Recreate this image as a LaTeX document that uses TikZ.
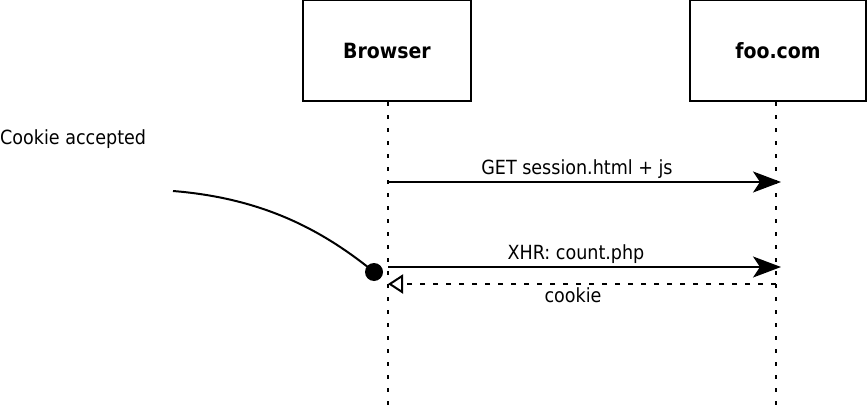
\documentclass[tikz,border=0pt]{standalone}
\usepackage{fontspec}
\setmainfont{DejaVu Sans Condensed}
\usetikzlibrary{arrows.meta}

\begin{document}
\begin{tikzpicture}[x=1pt, y=-1pt, >=Stealth,
 party/.style={draw, line width=2pt, minimum height=101pt, inner sep=0pt, font=\fontsize{21}{25}\selectfont\bfseries},
 life/.style={line width=2pt, dash pattern=on 3.5pt off 9.5pt},
 msg/.style={->, line width=2pt, >={Stealth[length=28pt,width=21pt,inset=7pt]}},
 reply/.style={->, line width=2pt, dash pattern=on 5pt off 8pt, >={Triangle[open,length=15pt,width=19pt,line width=2pt]}},
 lbl/.style={font=\fontsize{19.5}{23}\selectfont, inner sep=0pt}]
\useasboundingbox (0,0) rectangle (867,412);
% participants
\node[party, minimum width=168pt] (browser) at (387,50.5) {Browser};
\node[party, minimum width=176pt] (foo) at (778,50.5) {foo.com};
\coordinate (browserEnd) at (388,410);
\coordinate (fooEnd) at (776,410);
\draw[life] (browser.south -| browserEnd) -- (browserEnd);
\draw[life] (foo.south -| fooEnd) -- (fooEnd);
% messages
\coordinate (b1) at (388,182); \coordinate (f1) at (781,182);
\coordinate (b2) at (388,267); \coordinate (f2) at (781,267);
\coordinate (b3) at (388,284); \coordinate (f3) at (776,284);
\draw[msg] (b1) -- (f1) node[lbl, midway, above=2.5pt, xshift=-7.5pt] {GET session.html + js};
\draw[msg] (b2) -- (f2) node[lbl, midway, above=2.5pt, xshift=-8.5pt] {XHR: count.php};
\draw[reply] (f3) -- (b3) node[lbl, midway, below=3pt, xshift=-9pt] {cookie};
% note
\node[fill, circle, inner sep=0pt, minimum size=18pt] (dot) at (374,272) {};
\node[lbl, anchor=west] (note) at (0,139.5) {Cookie accepted};
\coordinate (noteEnd) at (173,191);
\draw[line width=2pt] (noteEnd) .. controls (260,198) and (320,228) .. (dot.center);
\end{tikzpicture}
\end{document}
